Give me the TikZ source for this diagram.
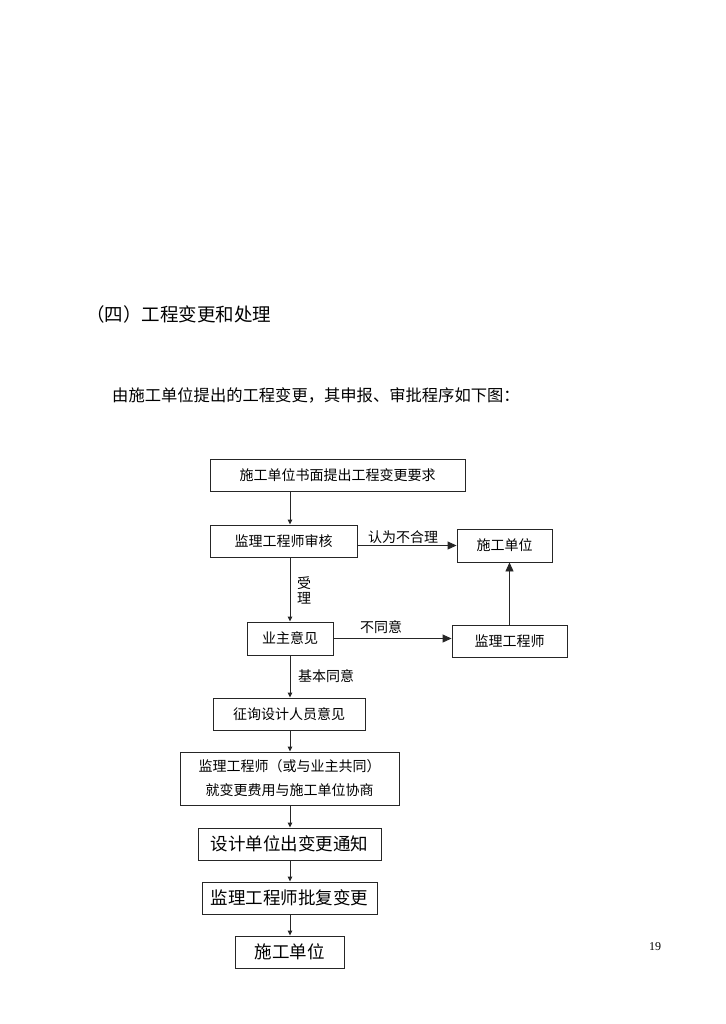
\documentclass[tikz,border=0pt]{standalone}
\usepackage{fontspec}
\setmainfont{Liberation Serif}
\newfontfamily\zh{Noto Sans CJK SC}
\usepackage{tikz}
\usetikzlibrary{arrows.meta}
\tikzset{
    box/.style = {rectangle, draw=black!85, line width=0.9pt, minimum height=32pt, inner sep=0pt, text centered, font=\zh\fontsize{14}{24}\selectfont},
    bigbox/.style = {box, font=\zh\fontsize{17.5}{20}\selectfont},
    lbl/.style = {inner sep=0pt, font=\zh\fontsize{14}{15}\selectfont},
    arrow/.style = {line width=0.9pt, draw=black!85, -{Triangle[length=5pt,width=4.5pt]}},
    sidearrow/.style = {line width=0.9pt, draw=black!85, -{Triangle[length=9pt,width=8pt]}}
}
\begin{document}
\begin{tikzpicture}[x=1pt, y=-1pt]
\useasboundingbox[fill=white] (0,0) rectangle (725,1024);
\node (title) [anchor=west, inner sep=0pt, font=\zh\fontsize{18.5}{20}\selectfont] at (86,314) {（四）工程变更和处理};
\node (intro) [anchor=west, inner sep=0pt, font=\zh\fontsize{16.3}{18}\selectfont] at (112,395) {由施工单位提出的工程变更，其申报、审批程序如下图：};

\node (req) [box, minimum width=255pt] at (337.5,475) {施工单位书面提出工程变更要求};
\node (check) [box, minimum width=147pt] at (283.5,541) {监理工程师审核};
\node (contr1) [box, minimum width=95pt, minimum height=33pt] at (504.5,545.5) {施工单位};
\node (owner) [box, minimum width=86pt, minimum height=33pt] at (290,638.5) {业主意见};
\node (eng) [box, minimum width=115pt] at (509.5,641) {监理工程师};
\node (design) [box, minimum width=152pt] at (289,714) {征询设计人员意见};
\node (nego) [box, minimum width=219pt, minimum height=53pt, align=center] at (289.5,778.5) {监理工程师（或与业主共同）\\就变更费用与施工单位协商};
\node (notice) [bigbox, minimum width=183pt] at (289.5,844) {设计单位出变更通知};
\node (approve) [bigbox, minimum width=175pt] at (289.5,898) {监理工程师批复变更};
\node (contr2) [bigbox, minimum width=109pt] at (289.5,952) {施工单位};

\node (unreason) [lbl] at (403,537) {认为不合理};
\node (accept) [lbl, align=center] at (304,590.5) {受\\理};
\node (disagree) [lbl] at (381,627) {不同意};
\node (agree) [lbl] at (326,676) {基本同意};
\node (page) [inner sep=0pt, font=\fontsize{12}{14}\selectfont] at (655,947) {19};

\coordinate (col) at (290,0);
\draw [arrow] (req.south -| col) -- (check.north -| col);
\draw [arrow] (check.south -| col) -- (owner.north -| col);
\draw [sidearrow] (check.east |- contr1.west) -- (contr1.west);
\draw [sidearrow] (owner.east) -- (eng.west |- owner.east);
\draw [sidearrow] (eng.north) -- (contr1.south -| eng.north);
\draw [arrow] (owner.south -| col) -- (design.north -| col);
\draw [arrow] (design.south -| col) -- (nego.north -| col);
\draw [arrow] (nego.south -| col) -- (notice.north -| col);
\draw [arrow] (notice.south -| col) -- (approve.north -| col);
\draw [arrow] (approve.south -| col) -- (contr2.north -| col);
\end{tikzpicture}
\end{document}
